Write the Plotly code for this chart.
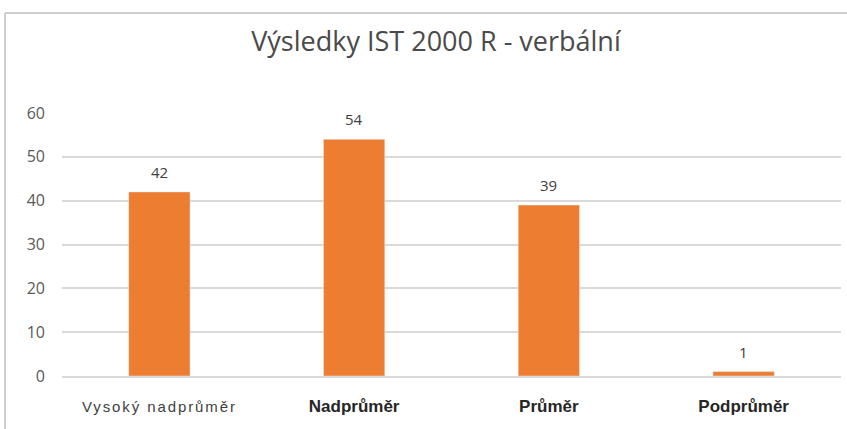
import plotly.graph_objects as go

categories = ["Vysoký nadprůměr", "Nadprůměr", "Průměr", "Podprůměr"]
values = [42, 54, 39, 1]
tick_labels = [
    '<span style="font-size:15px;letter-spacing:1.9px;font-weight:normal;fill:#404040">Vysoký nadprůměr</span>',
    '<b>Nadprůměr</b>',
    '<b>Průměr</b>',
    '<b>Podprůměr</b>',
]
y_ticks = [0, 10, 20, 30, 40, 50, 60]

W, H = 847, 429
L, R, T, B = 62, 6, 113, 53
pw, ph = W - L - R, H - T - B

fig = go.Figure()
fig.add_trace(go.Bar(
    x=categories, y=values, marker_color="#ED7D31", width=0.315,
    hoverinfo="skip",
))
for c, v in zip(categories, values):
    fig.add_annotation(x=c, y=v, text=str(v), showarrow=False, yanchor="bottom",
                       yshift=8, font=dict(family="Open Sans", size=15, color="#404040"))

# chart frame
fig.add_shape(type="line", xref="paper", yref="paper",
              x0=(5 - L) / pw, x1=(W + 2 - L) / pw, y0=(H - B - 13) / ph, y1=(H - B - 13) / ph,
              line=dict(color="#BFBFBF", width=1.5))
fig.add_shape(type="line", xref="paper", yref="paper",
              x0=(5 - L) / pw, x1=(5 - L) / pw, y0=(H - B - 13) / ph, y1=-(B + 5) / ph,
              line=dict(color="#BFBFBF", width=1.5))

fig.update_layout(
    width=W, height=H,
    margin=dict(l=L, r=R, t=T, b=B),
    paper_bgcolor="white", plot_bgcolor="white",
    showlegend=False,
    title=dict(text="Výsledky IST 2000 R - verbální", x=436 / W, xref="container", xanchor="center",
               y=1 - 42 / H, yanchor="middle", yref="container",
               font=dict(family="Open Sans", size=27, color="#4a4a4a")),
    font=dict(family="Open Sans"),
)
fig.update_xaxes(tickvals=categories, ticktext=tick_labels, showgrid=False,
                 showline=True, linecolor="#D9D9D9", linewidth=1.5,
                 tickfont=dict(family="Liberation Sans", size=17, color="#262626"),
                 ticks="", ticklabelstandoff=14)
fig.update_yaxes(range=[0, 60], tickvals=y_ticks, showgrid=True, gridcolor="#D9D9D9", gridwidth=1.5,
                 zeroline=False, showline=False,
                 tickfont=dict(family="Open Sans", size=16, color="#595959"),
                 ticks="", ticklabelstandoff=16)

fig.write_html("out.html", config={"displayModeBar": False},
               post_script="document.body.style.margin='0';document.body.style.padding='0';")
